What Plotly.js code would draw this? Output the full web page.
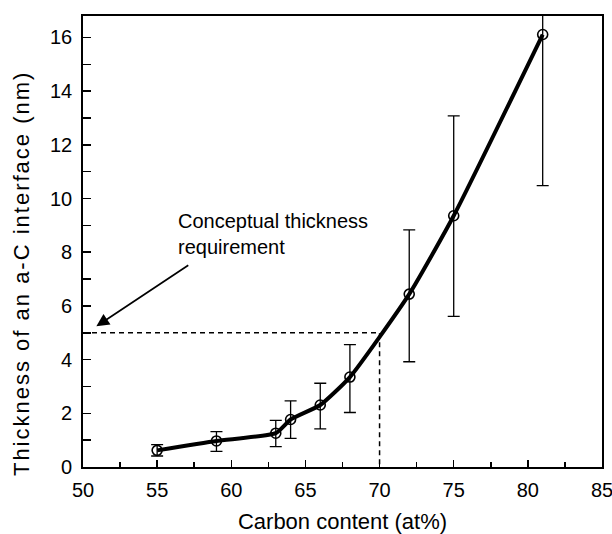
<!DOCTYPE html>
<html>
<head>
<meta charset="utf-8">
<script src="https://cdn.plot.ly/plotly-3.0.1.min.js"></script>
<style>body{margin:0;padding:0;background:#fff;}</style>
</head>
<body>
<div id="chart" style="width:612px;height:534px;"></div>
<script>
var carbon = [55, 59, 63, 64, 66, 68, 72, 75, 81];
var thickness = [0.62, 0.97, 1.26, 1.77, 2.31, 3.35, 6.44, 9.36, 16.11];
var errUpper = [0.83, 1.32, 1.74, 2.46, 3.12, 4.56, 8.83, 13.08, 17.2];
var errLower = [0.41, 0.58, 0.76, 1.07, 1.42, 2.03, 3.92, 5.61, 10.48];
var reqX = [50, 70, 70];
var reqY = [5, 5, 0];
var xTitle = 'Carbon content (at%)';
var yTitle = 'Thickness of an a-C interface (nm)';
var noteText = 'Conceptual thickness<br>requirement';

var plus = errUpper.map(function(v, i){ return v - thickness[i]; });
var minus = thickness.map(function(v, i){ return v - errLower[i]; });

var FONT = 'Liberation Sans, Arial, sans-serif';

var traces = [
  {
    x: reqX, y: reqY, mode: 'lines', type: 'scatter',
    line: {color: '#000', width: 1.5, dash: '5px,4px'},
    hoverinfo: 'skip', showlegend: false
  },
  {
    x: carbon, y: thickness, type: 'scatter', mode: 'lines+markers',
    line: {color: '#000', width: 4, shape: 'spline', smoothing: 0.5},
    marker: {symbol: 'circle-open', size: 10, color: '#000', line: {width: 1.6, color: '#000'}},
    error_y: {type: 'data', symmetric: false, array: plus, arrayminus: minus,
              color: '#000', thickness: 1.3, width: 6},
    showlegend: false
  }
];

var layout = {
  width: 612, height: 534,
  margin: {l: 83, r: 10, t: 16, b: 67},
  paper_bgcolor: '#fff', plot_bgcolor: '#fff',
  font: {family: FONT, color: '#000', size: 20},
  xaxis: {
    range: [50, 85], dtick: 5, tick0: 50,
    ticks: 'inside', ticklen: 7, tickwidth: 1.5, tickcolor: '#000',
    minor: {dtick: 2.5, ticks: 'inside', ticklen: 5, tickwidth: 1.5, tickcolor: '#000'},
    showline: true, linecolor: '#000', linewidth: 1.8, mirror: true,
    showgrid: false, zeroline: false,
    tickfont: {size: 20, family: FONT},
    ticklabeloverflow: 'allow', ticklabelstandoff: 4,
    title: {text: xTitle, font: {size: 22, family: FONT}, standoff: 18}
  },
  yaxis: {
    range: [0, 16.8], dtick: 2, tick0: 0,
    ticks: 'inside', ticklen: 8, tickwidth: 1.5, tickcolor: '#000',
    minor: {dtick: 1, ticks: 'inside', ticklen: 8, tickwidth: 1.5, tickcolor: '#000'},
    showline: true, linecolor: '#000', linewidth: 1.8, mirror: true,
    showgrid: false, zeroline: false,
    tickfont: {size: 20, family: FONT},
    ticklabelstandoff: 5
  },
  annotations: [
    {
      x: -0.1195, y: 0.43, xref: 'paper', yref: 'paper', xanchor: 'center', yanchor: 'middle',
      textangle: -90, showarrow: false,
      text: '<span style="letter-spacing:2px">' + yTitle + '</span>',
      font: {size: 22, family: FONT}
    },
    {
      x: 56.3, y: 9.65, xref: 'x', yref: 'y', xanchor: 'left', yanchor: 'top',
      text: noteText, showarrow: false, align: 'left',
      font: {size: 20, family: FONT}
    },
    {
      x: 50.9, y: 5.24, xref: 'x', yref: 'y',
      ax: 57.2, ay: 7.55, axref: 'x', ayref: 'y',
      text: '', showarrow: true, arrowhead: 2, arrowsize: 1.5, arrowwidth: 1.7, arrowcolor: '#000'
    }
  ]
};

Plotly.newPlot('chart', traces, layout, {displayModeBar: false, staticPlot: true});
</script>
</body>
</html>
